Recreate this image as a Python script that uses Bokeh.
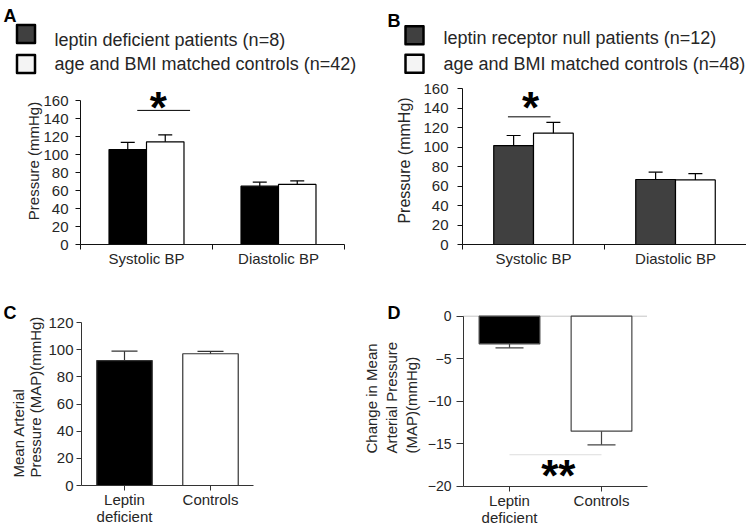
import math
from bokeh.plotting import figure
from bokeh.models import Range1d, LinearAxis, FixedTicker, ColumnDataSource, Whisker, TeeHead
from bokeh.layouts import column, row
from bokeh.embed import file_html
from bokeh.resources import INLINE
from bokeh.core.properties import value

# ---------------- data ----------------
ab_groups = ["Systolic BP", "Diastolic BP"]
ab_yticks = [0, 20, 40, 60, 80, 100, 120, 140, 160]

a_legend = ["leptin deficient patients (n=8)", "age and BMI matched controls (n=42)"]
a_patients = [105.5, 64.8]
a_patients_err = [8.0, 4.5]
a_controls = [114.1, 66.7]
a_controls_err = [7.8, 4.0]
a_sig_span = [0.43, 0.83]
a_sig_level = 149.0
a_star_x = 0.59

b_legend = ["leptin receptor null patients (n=12)", "age and BMI matched controls (n=48)"]
b_patients = [101.7, 66.8]
b_patients_err = [10.3, 7.5]
b_controls = [114.4, 66.4]
b_controls_err = [11.1, 6.5]
b_sig_span = [0.32, 0.62]
b_sig_level = 131.2
b_star_x = 0.48

cd_groups = ["Leptin\ndeficient", "Controls"]
c_yticks = [0, 20, 40, 60, 80, 100, 120]
c_map = [92.0, 97.0]
c_map_err = [6.9, 1.7]
c_ytitle = ["Mean Arterial", "Pressure (MAP)(mmHg)"]

d_yticks = [-20, -15, -10, -5, 0]
d_change = [-3.25, -13.53]
d_change_err = [0.47, 1.6]
d_sig_span = [0.5, 1.5]
d_sig_level = -16.3
d_star_x = 1.03
d_ytitle = ["Change in Mean", "Arterial Pressure", "(MAP)(mmHg)"]

# ---------------- style ----------------
FONT = "Liberation Sans"
TXT = "#262626"
AX = "#111111"
DARK = "#404040"


class Panel:
    def __init__(self, W, H, x0, y0, sx, sy):
        self.x0, self.y0, self.sx, self.sy = x0, y0, sx, sy
        self.p = figure(width=W, height=H,
                        x_range=Range1d(-x0 / sx, (W - x0) / sx),
                        y_range=Range1d((y0 - H) / sy, y0 / sy),
                        x_axis_type=None, y_axis_type=None,
                        output_backend="svg", toolbar_location=None,
                        min_border=0, outline_line_color=None,
                        background_fill_color="white", border_fill_color="white")

    def X(self, fx):
        return (fx - self.x0) / self.sx

    def Y(self, fy):
        return (self.y0 - fy) / self.sy

    def text(self, fx, fy, s, size, **kw):
        kw.setdefault("text_align", "left")
        kw.setdefault("text_baseline", "middle")
        kw.setdefault("text_color", TXT)
        self.p.text(x=[self.X(fx)], y=[self.Y(fy)], text=[s], text_font=value(FONT),
                    text_font_size=size, **kw)


def style_axis(ax, size, color=AX):
    ax.axis_line_color = color
    ax.axis_line_width = 1
    ax.major_tick_line_color = color
    ax.minor_tick_line_color = color
    ax.major_tick_in = 0
    ax.minor_tick_in = 0
    ax.major_label_text_font = FONT
    ax.major_label_text_font_size = size
    ax.major_label_text_color = TXT


def add_yaxis(P, ticks, size, standoff, tick_out=5, color=AX):
    ax = LinearAxis(fixed_location=0, bounds=(min(ticks), max(ticks)),
                    ticker=FixedTicker(ticks=ticks, minor_ticks=[]))
    style_axis(ax, size, color)
    ax.major_tick_out = tick_out
    ax.major_label_standoff = standoff
    P.p.add_layout(ax, "left")


def add_xaxis(P, groups, size, standoff, at, boundary_ticks, color=AX, line_height=1.2):
    centers = [i + 0.5 for i in range(len(groups))]
    if boundary_ticks:
        ticker = FixedTicker(ticks=centers, minor_ticks=list(range(len(groups) + 1)))
    else:
        ticker = FixedTicker(ticks=centers, minor_ticks=[])
    ax = LinearAxis(fixed_location=at, bounds=(0, len(groups)), ticker=ticker,
                    major_label_overrides={c: g for c, g in zip(centers, groups)})
    style_axis(ax, size, color)
    ax.major_label_text_line_height = line_height
    if boundary_ticks:
        ax.major_tick_out = 0
        ax.minor_tick_out = 5
    else:
        ax.major_tick_out = 5
        ax.minor_tick_out = 0
    ax.major_label_standoff = standoff
    P.p.add_layout(ax, "below")


def bars(P, means, errs, offset, width, fills, lines, cap, down=False):
    xs = [i + 0.5 + offset for i in range(len(means))]
    if down:
        ends = [m - e for m, e in zip(means, errs)]
    else:
        ends = [m + e for m, e in zip(means, errs)]
    src = ColumnDataSource(dict(x=xs, v=means, e=ends, fill=fills, line=lines))
    if down:
        P.p.vbar(x="x", top=0, bottom="v", width=width, source=src,
                 fill_color="fill", line_color="line", line_width=1.2)
    else:
        P.p.vbar(x="x", top="v", bottom=0, width=width, source=src,
                 fill_color="fill", line_color="line", line_width=1.2)
    head = TeeHead(size=cap, line_color=lines[0], line_width=1.2)
    if down:
        w = Whisker(source=src, base="x", upper="v", lower="e", dimension="height",
                    line_color=lines[0], line_width=1.2, upper_head=None, lower_head=head,
                    level="glyph")
    else:
        w = Whisker(source=src, base="x", lower="v", upper="e", dimension="height",
                    line_color=lines[0], line_width=1.2, lower_head=None, upper_head=head,
                    level="glyph")
    P.p.add_layout(w)


def legend(P, labels, sq_x, rows, text_x, text_rows, fills):
    for lab, ry, ty, fill in zip(labels, rows, text_rows, fills):
        P.p.rect(x=[P.X(sq_x)], y=[P.Y(ry)], width=18, height=18, width_units="screen",
                 height_units="screen", fill_color=fill, line_color="black", line_width=2.5,
                 line_join="round")
        P.text(text_x, ty, lab, "18px")


def star(P, x, level, s, dy):
    P.p.text(x=[x], y=[level], text=[s], text_font=value(FONT), text_font_style="bold",
             text_font_size="44px", text_align="center", text_baseline="alphabetic",
             text_color="black", y_offset=dy)


def sig_line(P, span, level, color):
    P.p.line(x=span, y=[level, level], line_color=color, line_width=1)


# ---------------- panel A ----------------
A = Panel(372, 270, 80, 244, 132, 0.9)
A.text(3, 15, "A", "18px", text_font_style="bold", text_baseline="alphabetic", text_color="black")
legend(A, a_legend, 25.5, [33.5, 63.5], 54, [39, 63], [DARK, "#f4f4f4"])
A.text(33, 160.5, "Pressure (mmHg)", "15px", angle=math.pi / 2, text_align="center")
bars(A, a_patients, a_patients_err, -0.142, 0.284, ["black"] * 2, ["black"] * 2, 14)
bars(A, a_controls, a_controls_err, 0.142, 0.284, ["white"] * 2, ["black"] * 2, 14)
sig_line(A, a_sig_span, a_sig_level, "black")
star(A, a_star_x, a_sig_level, "*", -2.8)
add_yaxis(A, ab_yticks, "15px", 7)
add_xaxis(A, ab_groups, "15px", 0, 0, True)

# ---------------- panel B ----------------
B = Panel(374, 270, 90, 244, 142, 0.973)
B.text(15, 20, "B", "18px", text_font_style="bold", text_baseline="alphabetic", text_color="black")
legend(B, b_legend, 42, [34.7, 63.3], 71, [37.5, 63], [DARK, "#f4f4f4"])
B.text(32, 160, "Pressure (mmHg)", "16px", angle=math.pi / 2, text_align="center")
bars(B, b_patients, b_patients_err, -0.14, 0.28, [DARK] * 2, ["black"] * 2, 14)
bars(B, b_controls, b_controls_err, 0.14, 0.28, ["white"] * 2, ["black"] * 2, 14)
sig_line(B, b_sig_span, b_sig_level, "black")
star(B, b_star_x, b_sig_level, "*", -9.6)
add_yaxis(B, ab_yticks, "15px", 9)
add_xaxis(B, ab_groups, "15px", 0, 0, True)

# ---------------- panel C ----------------
C = Panel(358, 255, 81, 215, 86, 1.358)
C.text(3, 42, "C", "18px", text_font_style="bold", text_baseline="alphabetic", text_color="black")
for fx, line in zip([18, 35], c_ytitle):
    C.text(fx, 207, line, "15px", angle=math.pi / 2)
bars(C, c_map, c_map_err, 0.0, 0.645, ["black", "white"], ["#333333"] * 2, 26)
add_yaxis(C, c_yticks, "15px", 3, color="#333333")
add_xaxis(C, cd_groups, "15px", 0, 0, False, color="#333333", line_height=1.0)

# ---------------- panel D ----------------
D = Panel(388, 255, 105, 45.7, 92, 8.5)
D.text(29, 42, "D", "18px", text_font_style="bold", text_baseline="alphabetic", text_color="black")
for fx, line in zip([13, 33, 53], d_ytitle):
    D.text(fx, 183, line, "15px", angle=math.pi / 2)
D.p.line(x=[0, len(cd_groups)], y=[0, 0], line_color="#888888", line_width=1, line_dash="1 1")
bars(D, d_change, d_change_err, 0.0, 0.66, ["black", "white"], ["#444444"] * 2, 28, down=True)
sig_line(D, d_sig_span, d_sig_level, "#dddddd")
star(D, d_star_x, d_sig_level, "**", 21.2)
add_yaxis(D, d_yticks, "14px", 5, tick_out=7, color="#333333")
add_xaxis(D, cd_groups, "15px", 1, -20, False, color="#333333", line_height=1.0)

layout = column(row(A.p, B.p), row(C.p, D.p))
open("out.html", "w").write(file_html(layout, INLINE))
